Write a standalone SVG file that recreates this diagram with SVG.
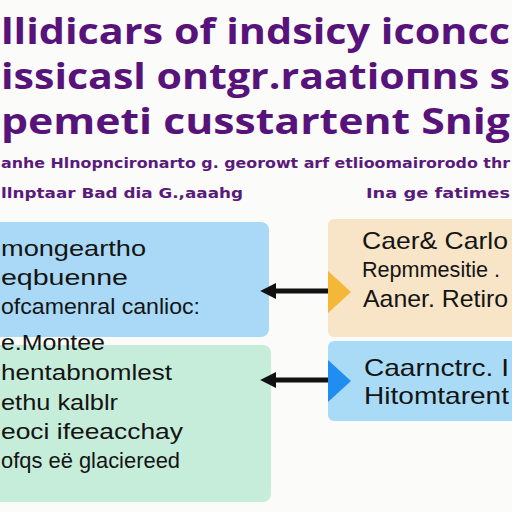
<svg xmlns="http://www.w3.org/2000/svg" width="512" height="512" viewBox="0 0 512 512">
<style>
.t{font-family:"Open Sans","DejaVu Sans",sans-serif;font-weight:bold;fill:#58137a;font-size:36px}
.s{font-family:"DejaVu Sans",sans-serif;font-weight:bold;fill:#5a1a7c;font-size:14px}
.b{font-family:"Liberation Sans","Arial",sans-serif;fill:#141414;font-size:22px}
.r{font-family:"Liberation Sans","Arial",sans-serif;fill:#141414;font-size:24px}
.r2{font-family:"Liberation Sans","Arial",sans-serif;fill:#141414;font-size:22px}
.arr{stroke:#111;stroke-width:5;fill:none}
</style>
<defs>
<marker id="ah" viewBox="0 0 10 10" refX="2" refY="5" markerWidth="3.2" markerHeight="3.2" orient="auto-start-reverse">
<path d="M0,0 L10,5 L0,10 Z" fill="#111"/>
</marker>
</defs>
<rect width="512" height="512" fill="#fbfbfa"/>
<g id="title">
<text class="t" x="1" y="44" textLength="509" lengthAdjust="spacingAndGlyphs">llidicars of indsicy iconcc</text>
<text class="t" x="1" y="89" textLength="509" lengthAdjust="spacingAndGlyphs">issicasl ontgr.raatioпns s</text>
<text class="t" x="1" y="134" textLength="509" lengthAdjust="spacingAndGlyphs">pemeti cusstartent Snig</text>
<text class="s" x="1" y="168" textLength="509" lengthAdjust="spacingAndGlyphs">anhe Hlnopncironarto g. georowt arf etlioomairorodo thr</text>
<text class="s" x="1" y="198" textLength="242" lengthAdjust="spacingAndGlyphs">llnptaar Bad dia G.,aaahg</text>
<text class="s" x="366" y="198" textLength="144" lengthAdjust="spacingAndGlyphs">Ina ge fatimes</text>
</g>
<g id="left-top">
<rect x="-10" y="222" width="279" height="115" rx="8" fill="#a9d9f6"/>
<text class="b" x="1" y="256" textLength="145" lengthAdjust="spacingAndGlyphs">mongeartho</text>
<text class="b" x="1" y="285" textLength="127" lengthAdjust="spacingAndGlyphs">eqbuenne</text>
<text class="b" x="1" y="314" textLength="199" lengthAdjust="spacingAndGlyphs">ofcamenral canlioc:</text>
</g>
<g id="left-bottom">
<rect x="-10" y="345" width="281" height="157" rx="8" fill="#c6ecda"/>
<text class="b" x="1" y="350" textLength="104" lengthAdjust="spacingAndGlyphs">e.Montee</text>
<text class="b" x="1" y="380" textLength="171" lengthAdjust="spacingAndGlyphs">hentabnomlest</text>
<text class="b" x="1" y="410" textLength="117" lengthAdjust="spacingAndGlyphs">ethu kalblr</text>
<text class="b" x="1" y="439" textLength="182" lengthAdjust="spacingAndGlyphs">eoci ifeeacchay</text>
<text class="b" x="1" y="468" textLength="179" lengthAdjust="spacingAndGlyphs">ofqs eë glaciereed</text>
</g>
<g id="right-top">
<rect x="328" y="219" width="194" height="118" rx="6" fill="#f8e4c6"/>
<path d="M328,271 L351,292 L328,313 Z" fill="#f5b738"/>
<text class="r" x="362" y="249" textLength="146" lengthAdjust="spacingAndGlyphs">Caer&amp; Carlo</text>
<text class="r2" x="362" y="277" textLength="138" lengthAdjust="spacingAndGlyphs">Repmmesitie .</text>
<text class="r" x="363" y="307" textLength="145" lengthAdjust="spacingAndGlyphs">Aaner. Retiro</text>
</g>
<g id="right-bottom">
<rect x="328" y="341" width="194" height="80" rx="6" fill="#a9dbf7"/>
<path d="M328,360 L351,381 L328,402 Z" fill="#1f8ef0"/>
<text class="r" x="364" y="376" textLength="145" lengthAdjust="spacingAndGlyphs">Caarnctrc. I</text>
<text class="r" x="364" y="404" textLength="145" lengthAdjust="spacingAndGlyphs">Hitomtarent</text>
</g>
<g id="connectors">
<line class="arr" x1="328" y1="291" x2="273" y2="291" marker-end="url(#ah)"/>
<line class="arr" x1="328" y1="380" x2="273" y2="380" marker-end="url(#ah)"/>
</g>
</svg>
